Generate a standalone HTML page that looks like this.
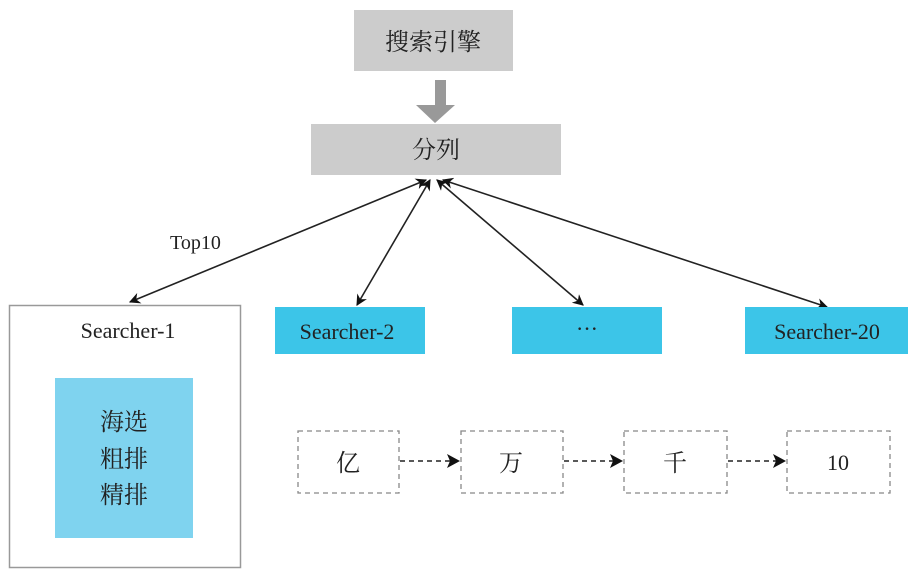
<!DOCTYPE html>
<html><head><meta charset="utf-8"><style>
body{margin:0;background:#fff;width:916px;height:576px;overflow:hidden}
svg text{font-family:"Liberation Serif","Noto Serif CJK SC",serif;fill:#222}
</style></head><body>
<svg width="916" height="576" viewBox="0 0 916 576" xmlns="http://www.w3.org/2000/svg">
<defs>
<marker id="a" viewBox="0 0 10 10" refX="9" refY="5" markerWidth="7" markerHeight="7" orient="auto-start-reverse"><path d="M0,0 L10,5 L0,10 L3,5 z" fill="#111"/></marker>
</defs>
<rect x="354" y="10" width="159" height="61" fill="#cccccc"/>
<text x="433" y="50" font-size="24" text-anchor="middle">搜索引擎</text>
<rect x="435" y="80" width="11" height="26" fill="#999"/>
<polygon points="416,105 455,105 435,123" fill="#999"/>
<rect x="311" y="124" width="250" height="51" fill="#cccccc"/>
<text x="436" y="158" font-size="24" text-anchor="middle">分列</text>
<g stroke="#222" stroke-width="1.6" fill="none">
<line x1="426" y1="180" x2="130" y2="302" marker-start="url(#a)" marker-end="url(#a)"/>
<line x1="430" y1="180" x2="357" y2="305" marker-start="url(#a)" marker-end="url(#a)"/>
<line x1="437" y1="180" x2="583" y2="305" marker-start="url(#a)" marker-end="url(#a)"/>
<line x1="443" y1="180" x2="827" y2="307" marker-start="url(#a)" marker-end="url(#a)"/>
</g>
<text x="170" y="249" font-size="20">Top10</text>
<rect x="9.5" y="305.5" width="231" height="262" fill="#fff" stroke="#999" stroke-width="1.5"/>
<text x="128" y="338" font-size="22" text-anchor="middle">Searcher-1</text>
<rect x="55" y="378" width="138" height="160" fill="#7fd3ef"/>
<text x="124" y="430" font-size="24" text-anchor="middle">海选</text>
<text x="124" y="467" font-size="24" text-anchor="middle">粗排</text>
<text x="124" y="503" font-size="24" text-anchor="middle">精排</text>
<rect x="275" y="307" width="150" height="47" fill="#3cc5e8"/>
<text x="347" y="339" font-size="22" text-anchor="middle">Searcher-2</text>
<rect x="512" y="307" width="150" height="47" fill="#3cc5e8"/>
<text x="587" y="336" font-size="22" text-anchor="middle">···</text>
<rect x="745" y="307" width="163" height="47" fill="#3cc5e8"/>
<text x="827" y="339" font-size="22" text-anchor="middle">Searcher-20</text>
<g fill="none" stroke="#888" stroke-width="1.3" stroke-dasharray="5,4">
<rect x="298" y="431" width="101" height="62"/>
<rect x="461" y="431" width="102" height="62"/>
<rect x="624" y="431" width="103" height="62"/>
<rect x="787" y="431" width="103" height="62"/>
</g>
<g stroke="#222" stroke-width="1.6" stroke-dasharray="5,4">
<line x1="400" y1="461" x2="450" y2="461"/>
<line x1="564" y1="461" x2="613" y2="461"/>
<line x1="728" y1="461" x2="776" y2="461"/>
</g>
<g fill="#111">
<polygon points="447,454 460,461 447,468 450,461"/>
<polygon points="610,454 623,461 610,468 613,461"/>
<polygon points="773,454 786,461 773,468 776,461"/>
</g>
<text x="348" y="471" font-size="24" text-anchor="middle">亿</text>
<text x="511" y="471" font-size="24" text-anchor="middle">万</text>
<text x="675" y="471" font-size="24" text-anchor="middle">千</text>
<text x="838" y="470" font-size="22" text-anchor="middle">10</text>
</svg>
</body></html>
